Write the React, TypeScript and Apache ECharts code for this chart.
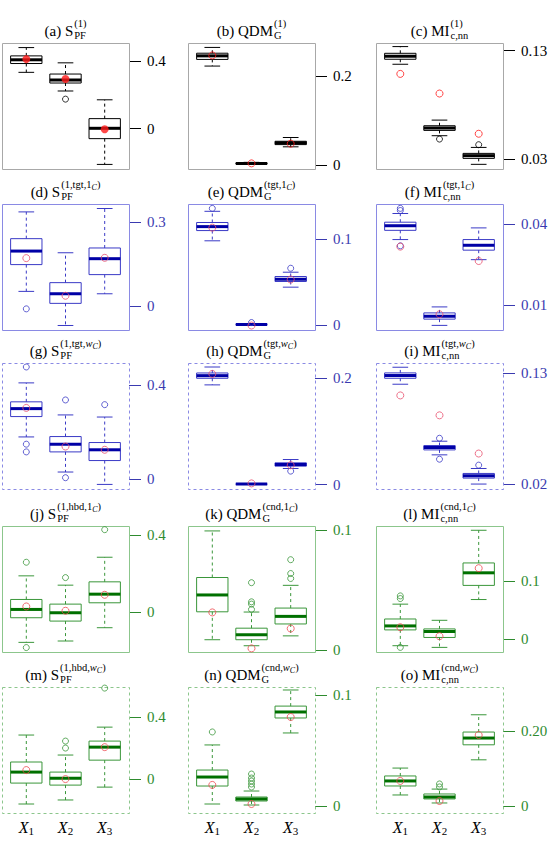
import React, { useEffect, useRef } from "react";
import * as echarts from "echarts";

// Predictor positions on each panel's x scale and their labels
const categories = [1, 2, 3];
const xTickLabels = ["1", "2", "3"];

// Five-number summaries: [lower whisker, Q1, median, Q3, upper whisker]
const boxA = [[0.332, 0.384, 0.406, 0.429, 0.478], [0.222, 0.269, 0.287, 0.322, 0.388], [-0.211, -0.059, 0.002, 0.059, 0.170]];
const meanA = [0.41, 0.293, -0.004];
const outA = [[2, 0.174]];

const boxB = [[0.223, 0.238, 0.246, 0.252, 0.265], [0.002, 0.003, 0.0035, 0.0045, 0.006], [0.041, 0.046, 0.050, 0.0535, 0.062]];
const meanB = [0.247, 0.0037, 0.048];
const outB: number[][] = [];

const boxC = [[0.1174, 0.122, 0.1248, 0.1275, 0.1337], [0.0515, 0.0564, 0.0585, 0.0607, 0.0659], [0.0251, 0.0306, 0.0331, 0.0352, 0.0407]];
const meanC = [0.1085, 0.0904, 0.0533];
const outC = [[2, 0.0484], [3, 0.0432]];

const boxD = [[0.053, 0.148, 0.196, 0.240, 0.335], [-0.068, 0.0105, 0.0445, 0.084, 0.190], [0.0445, 0.1125, 0.169, 0.207, 0.347]];
const meanD = [0.171, 0.0375, 0.172];
const outD = [[1, -0.009]];

const boxE = [[0.0977, 0.1096, 0.1142, 0.119, 0.132], [0.0, 0.0002, 0.0004, 0.0007, 0.001], [0.0438, 0.0504, 0.053, 0.0562, 0.0612]];
const meanE = [0.113, -0.0008, 0.0527];
const outE = [[1, 0.1354], [2, 0.0027], [3, 0.0658]];

const boxF = [[0.0342, 0.0376, 0.0393, 0.0406, 0.0438], [0.0026, 0.0049, 0.006, 0.0072, 0.0094], [0.0268, 0.0303, 0.0321, 0.0342, 0.0385]];
const meanF = [0.0316, 0.0067, 0.0263];
const outF = [[1, 0.0457], [1, 0.0449], [1, 0.0319]];

const boxG = [[0.180, 0.267, 0.301, 0.330, 0.411], [0.030, 0.116, 0.149, 0.1816, 0.274], [-0.023, 0.079, 0.125, 0.156, 0.265]];
const meanG = [0.304, 0.139, 0.125];
const outG = [[1, 0.479], [1, 0.149], [1, 0.116], [2, 0.338], [2, 0.0057], [3, 0.318]];

const boxH = [[0.187, 0.1994, 0.2043, 0.2093, 0.2205], [0.0005, 0.001, 0.0012, 0.0015, 0.002], [0.0304, 0.0348, 0.0379, 0.041, 0.0472]];
const meanH = [0.2075, 0.0025, 0.0366];
const outH = [[3, 0.0255]];

const boxI = [[0.1188, 0.1247, 0.1274, 0.13, 0.1356], [0.0489, 0.0538, 0.0561, 0.0581, 0.0624], [0.02, 0.0259, 0.0282, 0.0305, 0.0354]];
const meanI = [0.1077, 0.088, 0.0502];
const outI = [[2, 0.0653], [2, 0.0446], [3, 0.0387]];

const boxJ = [[-0.157, -0.0293, 0.0138, 0.0655, 0.188], [-0.15, -0.0466, -0.0034, 0.0414, 0.1397], [-0.081, 0.0483, 0.093, 0.157, 0.2845]];
const meanJ = [0.0293, 0.0069, 0.0897];
const outJ = [[1, 0.2586], [1, -0.184], [2, 0.179], [3, 0.4276]];

const boxK = [[0.0088, 0.032, 0.046, 0.0605, 0.0992], [0.0038, 0.0088, 0.0129, 0.0184, 0.0318], [0.012, 0.0219, 0.0282, 0.0351, 0.054]];
const meanK = [0.0315, 0.0016, 0.0181];
const outK = [[2, 0.0562], [2, 0.0403], [2, 0.0384], [2, 0.034], [3, 0.0753], [3, 0.0638], [3, 0.0597]];

const boxL = [[-0.0114, 0.016, 0.0229, 0.0349, 0.0606], [-0.0143, 0.0029, 0.0131, 0.0177, 0.0326], [0.0686, 0.0931, 0.1149, 0.132, 0.1886]];
const meanL = [0.0206, 0.0051, 0.1229];
const outL = [[1, 0.0749], [1, 0.0703], [1, -0.0143]];

const boxM = [[-0.161, -0.026, 0.045, 0.110, 0.284], [-0.135, -0.039, 0.006, 0.045, 0.155], [-0.052, 0.122, 0.206, 0.245, 0.335]];
const meanM = [0.058, 0.0, 0.206];
const outM = [[2, 0.245], [2, 0.2], [3, 0.587]];

const boxN = [[0.0018, 0.018, 0.0261, 0.0324, 0.055], [0.0009, 0.0045, 0.0063, 0.0081, 0.0135], [0.0658, 0.0793, 0.0847, 0.09, 0.1045]];
const meanN = [0.019, 0.0018, 0.0802];
const outN = [[1, 0.0667], [2, 0.0288], [2, 0.0252], [2, 0.0225], [2, 0.0198], [2, 0.0171]];

const boxO = [[0.0293, 0.0533, 0.0667, 0.08, 0.101], [0.008, 0.0187, 0.024, 0.032, 0.045], [0.123, 0.163, 0.181, 0.197, 0.243]];
const meanO = [0.0667, 0.0133, 0.189];
const outO = [[2, 0.0587], [2, 0.0507]];

// y-axis ranges and the tick labels printed on the right side
const rangeA = [-0.238, 0.505]; const ticksA = ["0", "0.4"];
const rangeB = [-0.009, 0.275]; const ticksB = ["0", "0.2"];
const rangeC = [0.0208, 0.137]; const ticksC = ["0.03", "0.13"];
const rangeD = [-0.084, 0.363]; const ticksD = ["0", "0.3"];
const rangeE = [-0.006, 0.1405]; const ticksE = ["0", "0.1"];
const rangeF = [0.0009, 0.0473]; const ticksF = ["0.01", "0.04"];
const rangeG = [-0.0426, 0.496]; const ticksG = ["0", "0.4"];
const rangeH = [-0.008, 0.228]; const ticksH = ["0", "0.2"];
const rangeI = [0.0151, 0.1398]; const ticksI = ["0.02", "0.13"];
const rangeJ = [-0.207, 0.4466]; const ticksJ = ["0", "0.4"];
const rangeK = [-0.0014, 0.1033]; const ticksK = ["0", "0.1"];
const rangeL = [-0.0223, 0.196]; const ticksL = ["0", "0.1"];
const rangeM = [-0.219, 0.594]; const ticksM = ["0", "0.4"];
const rangeN = [-0.0063, 0.1072]; const ticksN = ["0", "0.1"];
const rangeO = [-0.0187, 0.317]; const ticksO = ["0", "0.20"];

// Panel titles: label, base symbol, superscript tokens (r roman, i italic, c small italic), subscript
type Tok = [string, "r" | "i" | "c"];
const sup1: Tok[] = [["(1)", "r"]];
const supS1C = (k: string): Tok[] => [[`(1,${k},1`, "r"], ["C", "c"], [")", "r"]];
const supSwC = (k: string): Tok[] => [[`(1,${k},`, "r"], ["w", "i"], ["C", "c"], [")", "r"]];
const sup1C = (k: string): Tok[] => [[`(${k},1`, "r"], ["C", "c"], [")", "r"]];
const supwC = (k: string): Tok[] => [[`(${k},`, "r"], ["w", "i"], ["C", "c"], [")", "r"]];

const titles = [
  { tag: "(a)", base: "S", sup: sup1, sub: "PF" },
  { tag: "(b)", base: "QDM", sup: sup1, sub: "G" },
  { tag: "(c)", base: "MI", sup: sup1, sub: "c,nn" },
  { tag: "(d)", base: "S", sup: supS1C("tgt"), sub: "PF" },
  { tag: "(e)", base: "QDM", sup: sup1C("tgt"), sub: "G" },
  { tag: "(f)", base: "MI", sup: sup1C("tgt"), sub: "c,nn" },
  { tag: "(g)", base: "S", sup: supSwC("tgt"), sub: "PF" },
  { tag: "(h)", base: "QDM", sup: supwC("tgt"), sub: "G" },
  { tag: "(i)", base: "MI", sup: supwC("tgt"), sub: "c,nn" },
  { tag: "(j)", base: "S", sup: supS1C("hbd"), sub: "PF" },
  { tag: "(k)", base: "QDM", sup: sup1C("cnd"), sub: "G" },
  { tag: "(l)", base: "MI", sup: sup1C("cnd"), sub: "c,nn" },
  { tag: "(m)", base: "S", sup: supSwC("hbd"), sub: "PF" },
  { tag: "(n)", base: "QDM", sup: supwC("cnd"), sub: "G" },
  { tag: "(o)", base: "MI", sup: supwC("cnd"), sub: "c,nn" },
];

const panels = [
  { boxes: boxA, means: meanA, outliers: outA, range: rangeA, ticks: ticksA, filledMean: true },
  { boxes: boxB, means: meanB, outliers: outB, range: rangeB, ticks: ticksB },
  { boxes: boxC, means: meanC, outliers: outC, range: rangeC, ticks: ticksC },
  { boxes: boxD, means: meanD, outliers: outD, range: rangeD, ticks: ticksD },
  { boxes: boxE, means: meanE, outliers: outE, range: rangeE, ticks: ticksE },
  { boxes: boxF, means: meanF, outliers: outF, range: rangeF, ticks: ticksF },
  { boxes: boxG, means: meanG, outliers: outG, range: rangeG, ticks: ticksG },
  { boxes: boxH, means: meanH, outliers: outH, range: rangeH, ticks: ticksH },
  { boxes: boxI, means: meanI, outliers: outI, range: rangeI, ticks: ticksI },
  { boxes: boxJ, means: meanJ, outliers: outJ, range: rangeJ, ticks: ticksJ },
  { boxes: boxK, means: meanK, outliers: outK, range: rangeK, ticks: ticksK },
  { boxes: boxL, means: meanL, outliers: outL, range: rangeL, ticks: ticksL },
  { boxes: boxM, means: meanM, outliers: outM, range: rangeM, ticks: ticksM },
  { boxes: boxN, means: meanN, outliers: outN, range: rangeN, ticks: ticksN },
  { boxes: boxO, means: meanO, outliers: outO, range: rangeO, ticks: ticksO },
];

const blue = { frame: "#8a8ae4", box: "#3a3ac6", median: "#0000a6", outlier: "#3a3ac6", axis: "#3a3ab0", mean: "#e8506e" };
const green = { frame: "#8cc68c", box: "#3a963a", median: "#007000", outlier: "#3a963a", axis: "#2e8b2e", mean: "#ee4a50" };
const rowStyles = [
  { frame: "#a8a8a8", dashed: false, box: "#000000", median: "#000000", outlier: "#000000", axis: "#000000", mean: "#ff1a1a" },
  { ...blue, dashed: false },
  { ...blue, dashed: true },
  { ...green, dashed: false },
  { ...green, dashed: true },
];

const FONT = "Liberation Serif";
const colLeft = [2, 188, 376];
const rowTop = [43, 204, 363, 526, 687];
const PW = 127;
const PH = 126;

let measureCtx: CanvasRenderingContext2D | null = null;
function textWidth(text: string, size: number, italic: boolean) {
  if (!measureCtx) measureCtx = document.createElement("canvas").getContext("2d");
  measureCtx!.font = `${italic ? "italic " : ""}${size}px ${FONT}`;
  return measureCtx!.measureText(text).width;
}

function textEl(text: string, x: number, baseline: number, size: number, italic = false) {
  return {
    type: "text",
    x,
    y: baseline - size * 0.32,
    silent: true,
    style: {
      text,
      fill: "#000",
      fontSize: size,
      fontFamily: FONT,
      fontStyle: italic ? "italic" : "normal",
      align: "left",
      verticalAlign: "middle",
    },
  };
}

function titleElements(t: (typeof titles)[number], cx: number, baseline: number) {
  const MAIN = 15, SUP = 10.5, SS = 8;
  const mainText = `${t.tag} ${t.base}`;
  const wMain = textWidth(mainText, MAIN, false);
  const toks = t.sup.map(([s, k]) => ({ s, k, w: textWidth(s, k === "c" ? SS : SUP, k !== "r") }));
  const wSup = toks.reduce((a, b) => a + b.w, 0);
  const wSub = textWidth(t.sub, SUP, false);
  const total = wMain + 1 + Math.max(wSup, wSub);
  const x0 = cx - total / 2;
  const els: any[] = [textEl(mainText, x0, baseline, MAIN)];
  let sx = x0 + wMain + 1;
  for (const tk of toks) {
    if (tk.k === "c") els.push(textEl(tk.s, sx, baseline - 7, SS, true));
    else els.push(textEl(tk.s, sx, baseline - 9, SUP, tk.k === "i"));
    sx += tk.w;
  }
  els.push(textEl(t.sub, x0 + wMain + 1, baseline + 3, SUP));
  return els;
}

function boxRenderer(st: (typeof rowStyles)[number]) {
  return (params: any, api: any) => {
    const x = api.value(0);
    const lo = api.coord([x, api.value(1)]);
    const q1 = api.coord([x, api.value(2)]);
    const md = api.coord([x, api.value(3)]);
    const q3 = api.coord([x, api.value(4)]);
    const hi = api.coord([x, api.value(5)]);
    const half = api.size([0.8, 0])[0] / 2;
    const cap = half / 2;
    const cx = lo[0];
    const dash = { stroke: st.box, lineWidth: 1, lineDash: [3, 3] };
    const solid = { stroke: st.box, lineWidth: 1 };
    return {
      type: "group",
      children: [
        { type: "line", shape: { x1: cx, y1: q3[1], x2: cx, y2: hi[1] }, style: dash },
        { type: "line", shape: { x1: cx, y1: q1[1], x2: cx, y2: lo[1] }, style: dash },
        { type: "line", shape: { x1: cx - cap, y1: hi[1], x2: cx + cap, y2: hi[1] }, style: solid },
        { type: "line", shape: { x1: cx - cap, y1: lo[1], x2: cx + cap, y2: lo[1] }, style: solid },
        {
          type: "rect",
          shape: { x: cx - half, y: q3[1], width: half * 2, height: q1[1] - q3[1] },
          style: { stroke: st.box, lineWidth: 1, fill: "none" },
        },
        {
          type: "line",
          shape: { x1: cx - half, y1: md[1], x2: cx + half, y2: md[1] },
          style: { stroke: st.median, lineWidth: 3 },
        },
      ],
    };
  };
}

export default function App() {
  const ref = useRef<HTMLDivElement>(null);

  useEffect(() => {
    if (!ref.current) return;
    const chart = echarts.init(ref.current, undefined, { renderer: "svg" });

    const grid: any[] = [];
    const xAxis: any[] = [];
    const yAxis: any[] = [];
    const series: any[] = [];
    const graphic: any[] = [];

    panels.forEach((p, i) => {
      const row = Math.floor(i / 3);
      const col = i % 3;
      const st = rowStyles[row];
      const left = colLeft[col];
      const top = rowTop[row];
      grid.push({ left, top, width: PW, height: PH });

      xAxis.push({
        gridIndex: i,
        type: "value",
        min: 0.38,
        max: 3.62,
        axisLine: { show: false },
        axisTick: { show: false },
        splitLine: { show: false },
        axisLabel:
          row === 4
            ? {
                show: true,
                customValues: categories,
                margin: 5,
                formatter: (v: number) => `{x|X}{n|${xTickLabels[categories.indexOf(v)]}}`,
                rich: {
                  x: { fontFamily: FONT, fontStyle: "italic", fontSize: 16, color: "#000", lineHeight: 18 },
                  n: { fontFamily: FONT, fontSize: 11, color: "#000", lineHeight: 9, verticalAlign: "bottom" },
                },
              }
            : { show: false },
      });

      const tickVals = p.ticks.map(Number);
      yAxis.push({
        gridIndex: i,
        type: "value",
        position: "right",
        min: p.range[0],
        max: p.range[1],
        axisLine: { show: false },
        splitLine: { show: false },
        axisTick: { show: true, length: 12, customValues: tickVals, lineStyle: { color: st.axis, width: 1 } },
        axisLabel: {
          customValues: tickVals,
          margin: 18,
          color: st.axis,
          fontFamily: FONT,
          fontSize: 15,
          formatter: (v: number) => {
            const k = tickVals.findIndex((t) => Math.abs(t - v) < 1e-9);
            return k >= 0 ? p.ticks[k] : "";
          },
        },
      });

      series.push({
        type: "custom",
        coordinateSystem: "cartesian2d",
        xAxisIndex: i,
        yAxisIndex: i,
        renderItem: boxRenderer(st),
        encode: { x: 0, y: [1, 2, 3, 4, 5] },
        data: p.boxes.map((b, j) => [categories[j], ...b]),
        silent: true,
        z: 2,
      });
      series.push({
        type: "scatter",
        xAxisIndex: i,
        yAxisIndex: i,
        symbol: "circle",
        symbolSize: 6,
        itemStyle: { color: "rgba(0,0,0,0)", borderColor: st.outlier, borderWidth: 1 },
        data: p.outliers,
        silent: true,
        z: 3,
      });
      series.push({
        type: "scatter",
        xAxisIndex: i,
        yAxisIndex: i,
        symbol: "circle",
        symbolSize: (p as any).filledMean ? 8 : 7,
        itemStyle: (p as any).filledMean
          ? { color: st.mean }
          : { color: "rgba(0,0,0,0)", borderColor: st.mean, borderWidth: 1 },
        data: p.means.map((m, j) => [categories[j], m]),
        silent: true,
        z: 4,
      });

      graphic.push({
        type: "rect",
        silent: true,
        shape: { x: left + 0.5, y: top + 0.5, width: PW, height: PH },
        style: { fill: "none", stroke: st.frame, lineWidth: 1, lineDash: st.dashed ? [3, 3] : null },
        z: 1,
      });
      graphic.push(...titleElements(titles[i], left + PW / 2, top - 7));
    });

    chart.setOption({
      animation: false,
      backgroundColor: "#ffffff",
      grid,
      xAxis,
      yAxis,
      series,
      graphic,
    });

    return () => chart.dispose();
  }, []);

  return <div ref={ref} style={{ position: "fixed", left: 0, top: 0, width: 551, height: 846 }} />;
}
